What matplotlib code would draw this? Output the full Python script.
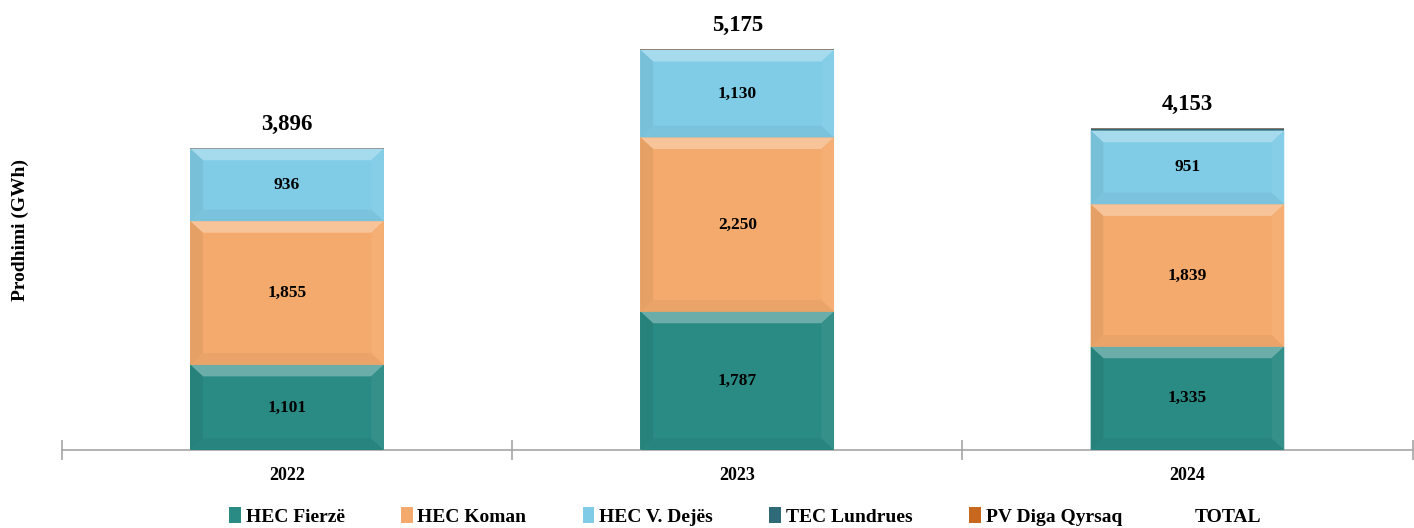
import numpy as np
import matplotlib.pyplot as plt
from matplotlib.patches import Patch, Polygon
from matplotlib.colors import to_rgb

plt.rcParams["font.family"] = ["Liberation Serif", "DejaVu Serif"]
plt.rcParams["font.weight"] = "bold"

# ----- data -----
years = ["2022", "2023", "2024"]
series_names = ["HEC Fierzë", "HEC Koman", "HEC V. Dejës", "TEC Lundrues", "PV Diga Qyrsaq"]
hec_fierze = [1101, 1787, 1335]
hec_koman = [1855, 2250, 1839]
hec_dejes = [936, 1130, 951]
tec_lundrues = [0, 0, 20]
pv_qyrsaq = [4, 8, 8]
totals = [3896, 5175, 4153]

colors = ["#2a8a84", "#f4aa6c", "#80cbe6", "#2f6a78", "#8c7a6e"]
legend_colors = ["#2a8a84", "#f4aa6c", "#80cbe6", "#2f6a78", "#c8681e"]


def shade(c, f):
    r, g, b = to_rgb(c)
    if f > 0:
        return (r + (1 - r) * f, g + (1 - g) * f, b + (1 - b) * f)
    return (r * (1 + f), g * (1 + f), b * (1 + f))


def bevel(ax, rect, color, bx=0.028, by=150):
    # fake bevel look on a bar segment
    x0, y0 = rect.get_x(), rect.get_y()
    w, h = rect.get_width(), rect.get_height()
    if h < 2 * by:
        return
    x1, y1 = x0 + w, y0 + h
    top = [(x0, y1), (x1, y1), (x1 - bx, y1 - by), (x0 + bx, y1 - by)]
    bot = [(x0, y0), (x1, y0), (x1 - bx, y0 + by), (x0 + bx, y0 + by)]
    left = [(x0, y0), (x0, y1), (x0 + bx, y1 - by), (x0 + bx, y0 + by)]
    right = [(x1, y0), (x1, y1), (x1 - bx, y1 - by), (x1 - bx, y0 + by)]
    for pts, f in [(top, 0.3), (bot, -0.04), (left, -0.06), (right, 0.05)]:
        ax.add_patch(Polygon(pts, closed=True, facecolor=shade(color, f),
                             edgecolor="none", zorder=3))


fig = plt.figure(figsize=(14.14, 5.28), dpi=100)
ax = fig.add_axes([0.0438, 0.1477, 0.9552, 0.833])

x = np.arange(len(years))
width = 0.43
bottom = np.zeros(len(years))
all_series = [hec_fierze, hec_koman, hec_dejes, tec_lundrues, pv_qyrsaq]
for vals, col in zip(all_series, colors):
    vals = np.array(vals, dtype=float)
    bars = ax.bar(x, vals, width, bottom=bottom, color=col, edgecolor="none", zorder=2)
    for rect in bars:
        bevel(ax, rect, col)
    bottom += vals

# labels inside the big segments
bottom = np.zeros(len(years))
for vals in all_series[:3]:
    for i, v in enumerate(vals):
        ax.text(x[i], bottom[i] + v / 2, f"{v:,}", ha="center", va="center",
                fontsize=12.5, fontweight="bold", zorder=5)
    bottom += np.array(vals)

stack_tops = np.sum(np.array(all_series), axis=0)
for i, t in enumerate(totals):
    ax.text(x[i], stack_tops[i] + 170, f"{t:,}", ha="center", va="bottom",
            fontsize=16.5, fontweight="bold")

ax.set_xlim(-0.5, 2.5)
ax.set_ylim(0, 5680)
ax.set_yticks([])
ax.set_xticks(x)
ax.set_xticklabels(years, fontsize=13, fontweight="bold")
ax.tick_params(axis="x", which="major", length=0, pad=12)
ax.set_xticks([-0.5, 0.5, 1.5, 2.5], minor=True)
ax.tick_params(axis="x", which="minor", length=14, direction="inout",
               color="#a6a6a6", width=1.2)
for s in ["top", "right", "left"]:
    ax.spines[s].set_visible(False)
ax.spines["bottom"].set_color("#a6a6a6")
ax.spines["bottom"].set_linewidth(1.2)

ax.set_ylabel("Prodhimi (GWh)", fontsize=14, fontweight="bold", labelpad=24)

handles = [Patch(facecolor=c, edgecolor="none") for c in legend_colors]
handles.append(Patch(facecolor="none", edgecolor="none"))
labels = series_names + ["TOTAL"]
fig.legend(handles, labels, loc="center", bbox_to_anchor=(0.527, 0.022), ncol=6,
           frameon=False, fontsize=14, handlelength=0.6, handleheight=0.9,
           handletextpad=0.25, columnspacing=2.9)

fig.savefig("out.png", dpi=100)
